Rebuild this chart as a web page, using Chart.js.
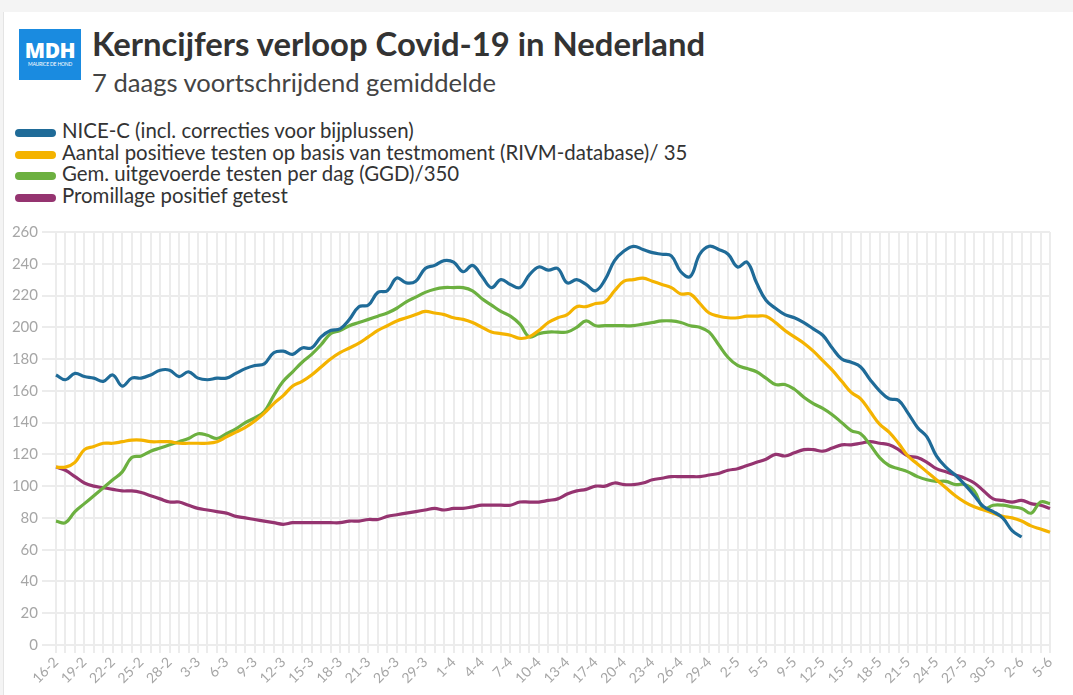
<!DOCTYPE html>
<html lang="nl">
<head>
<meta charset="UTF-8">
<script src="https://cdn.jsdelivr.net/npm/chart.js"></script>
<title>Kerncijfers</title>
<style>
    html, body { margin: 0; padding: 0; }
    body { width: 1073px; height: 695px; background: #f4f4f4; overflow: hidden; font-family: Lato, sans-serif; }
    #kaart { position: absolute; left: 3px; top: 12px; width: 1070px; height: 683px; background: #fff; border-left: 1px solid #e4e4e4; }
    #logo { position: absolute; left: 15px; top: 17px; width: 62px; height: 51px; background: #1a8be0; color: #fff; text-align: center; }
    #logo b { display: block; font-family: "Open Sans", sans-serif; font-weight: 800; font-size: 21px; line-height: 21px; margin-top: 11px; letter-spacing: -0.5px; }
    #logo small { display: block; font-size: 5px; line-height: 6px; letter-spacing: -0.2px; }
    #titel { position: absolute; left: 88px; top: 12px; font-size: 32.8px; font-weight: 700; color: #333; white-space: nowrap; }
    #subtitel { position: absolute; left: 88px; top: 55px; font-size: 25.6px; color: #444; white-space: nowrap; }
    #legenda { position: absolute; left: 11px; top: 108px; }
    .item { height: 21.5px; font-size: 20.4px; line-height: 21.5px; color: #333; white-space: nowrap; }
    .item span { display: inline-block; width: 41px; height: 8px; border-radius: 4px; margin-right: 6px; vertical-align: 1px; }
    #grafiek { position: absolute; left: -3px; top: 200px; width: 1073px; height: 483px; }
</style>
</head>
<body>
<div id="kaart">
    <div id="logo"><b>MDH</b><small>MAURICE DE HOND</small></div>
    <div id="titel">Kerncijfers verloop Covid-19 in Nederland</div>
    <div id="subtitel">7 daags voortschrijdend gemiddelde</div>
    <div id="legenda"></div>
    <div id="grafiek"><canvas id="myChart"></canvas></div>
</div>

<script>
    // dagen (enkele data ontbreken in de bron)
    var datums = ['16-2','17-2','18-2','19-2','20-2','21-2','22-2','23-2','24-2','25-2','26-2','27-2','28-2',
        '1-3','2-3','3-3','4-3','5-3','6-3','7-3','8-3','9-3','10-3','11-3','12-3','13-3','14-3','15-3','16-3','17-3',
        '18-3','19-3','20-3','21-3','22-3','24-3','26-3','27-3','28-3','29-3','30-3','31-3',
        '1-4','2-4','3-4','4-4','5-4','6-4','7-4','8-4','9-4','10-4','11-4','12-4','13-4','15-4','16-4','17-4',
        '18-4','19-4','20-4','21-4','22-4','23-4','24-4','25-4','26-4','27-4','28-4','29-4','30-4',
        '1-5','2-5','3-5','4-5','5-5','6-5','8-5','9-5','10-5','11-5','12-5','13-5','14-5','15-5','16-5','17-5',
        '18-5','19-5','20-5','21-5','22-5','23-5','24-5','25-5','26-5','27-5','28-5','29-5','30-5','31-5',
        '1-6','2-6','3-6','4-6','5-6'];

    var niceC = [170,167,171,169,168,166,170,163,168,168,170,173,173,169,172,168,167,168,168,171,174,176,
        177,184,185,183,187,187,194,198,199,205,213,214,222,223,231,228,229,237,239,242,241,235,239,232,
        225,230,227,225,233,238,236,237,228,230,227,223,230,242,248,251,249,247,246,245,235,232,246,251,
        249,246,238,241,228,217,212,208,206,203,199,195,187,180,178,175,167,160,155,154,146,137,131,119,
        112,107,101,94,87,84,80,72,68,null,null,null];

    var positief = [112,112,115,123,125,127,127,128,129,129,128,128,128,127,127,127,127,128,131,134,137,141,
        146,152,157,163,166,170,175,180,184,187,190,194,198,201,204,206,208,210,209,208,206,205,203,200,
        197,196,195,193,194,198,203,206,208,213,213,215,216,223,229,230,231,229,227,225,221,221,215,209,
        207,206,206,207,207,207,203,198,194,190,185,179,173,166,159,155,147,139,134,127,119,114,109,104,
        99,94,90,87,85,83,81,80,78,75,73,71];

    var getest = [78,77,84,89,94,99,104,109,118,119,122,124,126,128,130,133,132,130,133,136,140,143,
        147,157,166,172,178,183,189,196,198,201,203,205,207,209,212,216,219,222,224,225,225,225,223,218,
        214,210,207,202,194,196,197,197,197,200,204,201,201,201,201,201,202,203,204,204,203,201,200,197,
        189,181,176,174,172,168,164,164,161,156,152,149,145,140,135,133,126,118,113,111,109,106,104,103,
        103,101,101,97,86,88,88,87,86,83,90,89];

    var promille = [112,110,106,102,100,99,98,97,97,96,94,92,90,90,88,86,85,84,83,81,80,79,
        78,77,76,77,77,77,77,77,77,78,78,79,79,81,82,83,84,85,86,85,86,86,87,88,
        88,88,88,90,90,90,91,92,95,97,98,100,100,102,101,101,102,104,105,106,106,106,106,107,
        108,110,111,113,115,117,120,119,121,123,123,122,124,126,126,127,128,127,126,123,119,118,115,111,
        109,107,105,102,97,92,91,90,91,89,88,86];

    var reeksen = [
        { label: 'NICE-C (incl. correcties voor bijplussen)', data: niceC, kleur: '#1f6b98' },
        { label: 'Aantal positieve testen op basis van testmoment (RIVM-database)/ 35', data: positief, kleur: '#f4b300' },
        { label: 'Gem. uitgevoerde testen per dag (GGD)/350', data: getest, kleur: '#6cb040' },
        { label: 'Promillage positief getest', data: promille, kleur: '#953470' }
    ];

    var legenda = document.getElementById('legenda');
    reeksen.forEach(function (r) {
        var div = document.createElement('div');
        div.className = 'item';
        div.innerHTML = '<span style="background:' + r.kleur + '"></span>';
        div.appendChild(document.createTextNode(r.label));
        legenda.appendChild(div);
    });

    var ctx = document.getElementById('myChart').getContext('2d');
    var myChart = new Chart(ctx, {
        type: 'line',
        data: {
            labels: datums,
            datasets: reeksen.map(function (r) {
                return {
                    label: r.label,
                    data: r.data,
                    borderColor: r.kleur,
                    backgroundColor: r.kleur,
                    borderWidth: 3.2,
                    pointRadius: 0,
                    tension: 0.4,
                    fill: false
                };
            })
        },
        options: {
            responsive: true,
            maintainAspectRatio: false,
            animation: false,
            layout: { padding: { top: 20, right: 24, left: 0, bottom: 0 } },
            plugins: { legend: { display: false }, tooltip: { enabled: false } },
            scales: {
                x: {
                    offset: false,
                    afterFit: function (s) { s.height = 50; },
                    grid: { color: '#ececec', lineWidth: 2, tickLength: 8, drawTicks: true },
                    border: { display: false },
                    ticks: {
                        autoSkip: false,
                        maxRotation: 45,
                        minRotation: 45,
                        padding: 1,
                        color: '#a6a6a6',
                        font: { family: 'Lato', size: 14 },
                        callback: function (v, i) { return i % 3 === 0 ? datums[i] : ''; }
                    }
                },
                y: {
                    min: 0,
                    max: 260,
                    afterFit: function (s) { s.width = 55; },
                    grid: { color: '#ececec', lineWidth: 2, tickLength: 14 },
                    border: { display: false },
                    ticks: {
                        stepSize: 20,
                        padding: 4,
                        color: '#a6a6a6',
                        font: { family: 'Lato', size: 15 }
                    }
                }
            }
        }
    });
</script>
</body>
</html>
